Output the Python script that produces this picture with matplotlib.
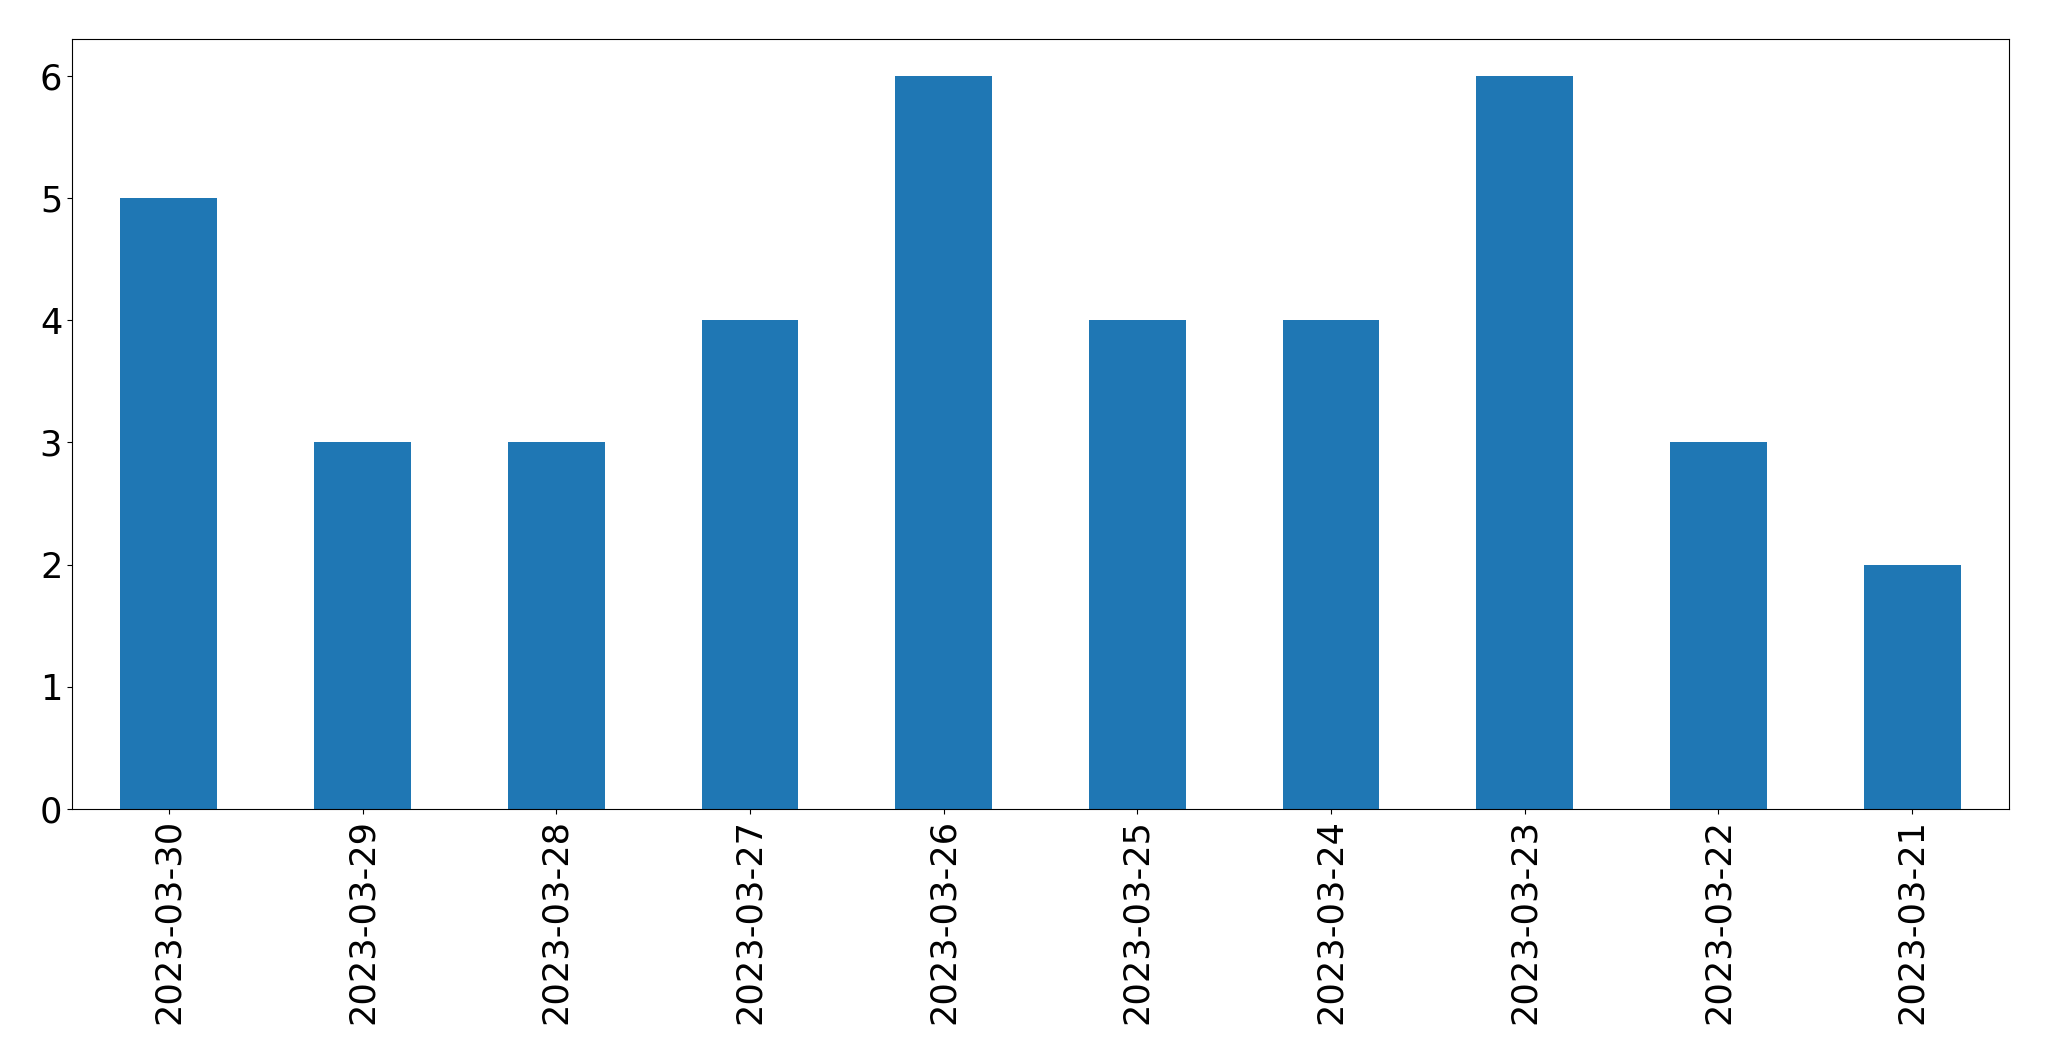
import matplotlib
matplotlib.use("Agg")
import matplotlib.pyplot as plt

dates = ["2023-03-30", "2023-03-29", "2023-03-28", "2023-03-27", "2023-03-26",
         "2023-03-25", "2023-03-24", "2023-03-23", "2023-03-22", "2023-03-21"]
counts = [5, 3, 3, 4, 6, 4, 4, 6, 3, 2]

W, H = 2049, 1061
fig = plt.figure(figsize=(W / 100, H / 100), dpi=100)
ax = fig.add_axes([72 / W, (H - 809) / H, (2009 - 72) / W, (809 - 39) / H])

x = range(len(dates))
ax.bar(x, counts, width=0.5, color="#1f77b4")
ax.set_xlim(-0.5, len(dates) - 0.5)
ax.set_xticks(list(x))
ax.set_xticklabels(dates, rotation=90)
ax.tick_params(axis="both", labelsize=25.3)

fig.savefig("out.png", dpi=100)
